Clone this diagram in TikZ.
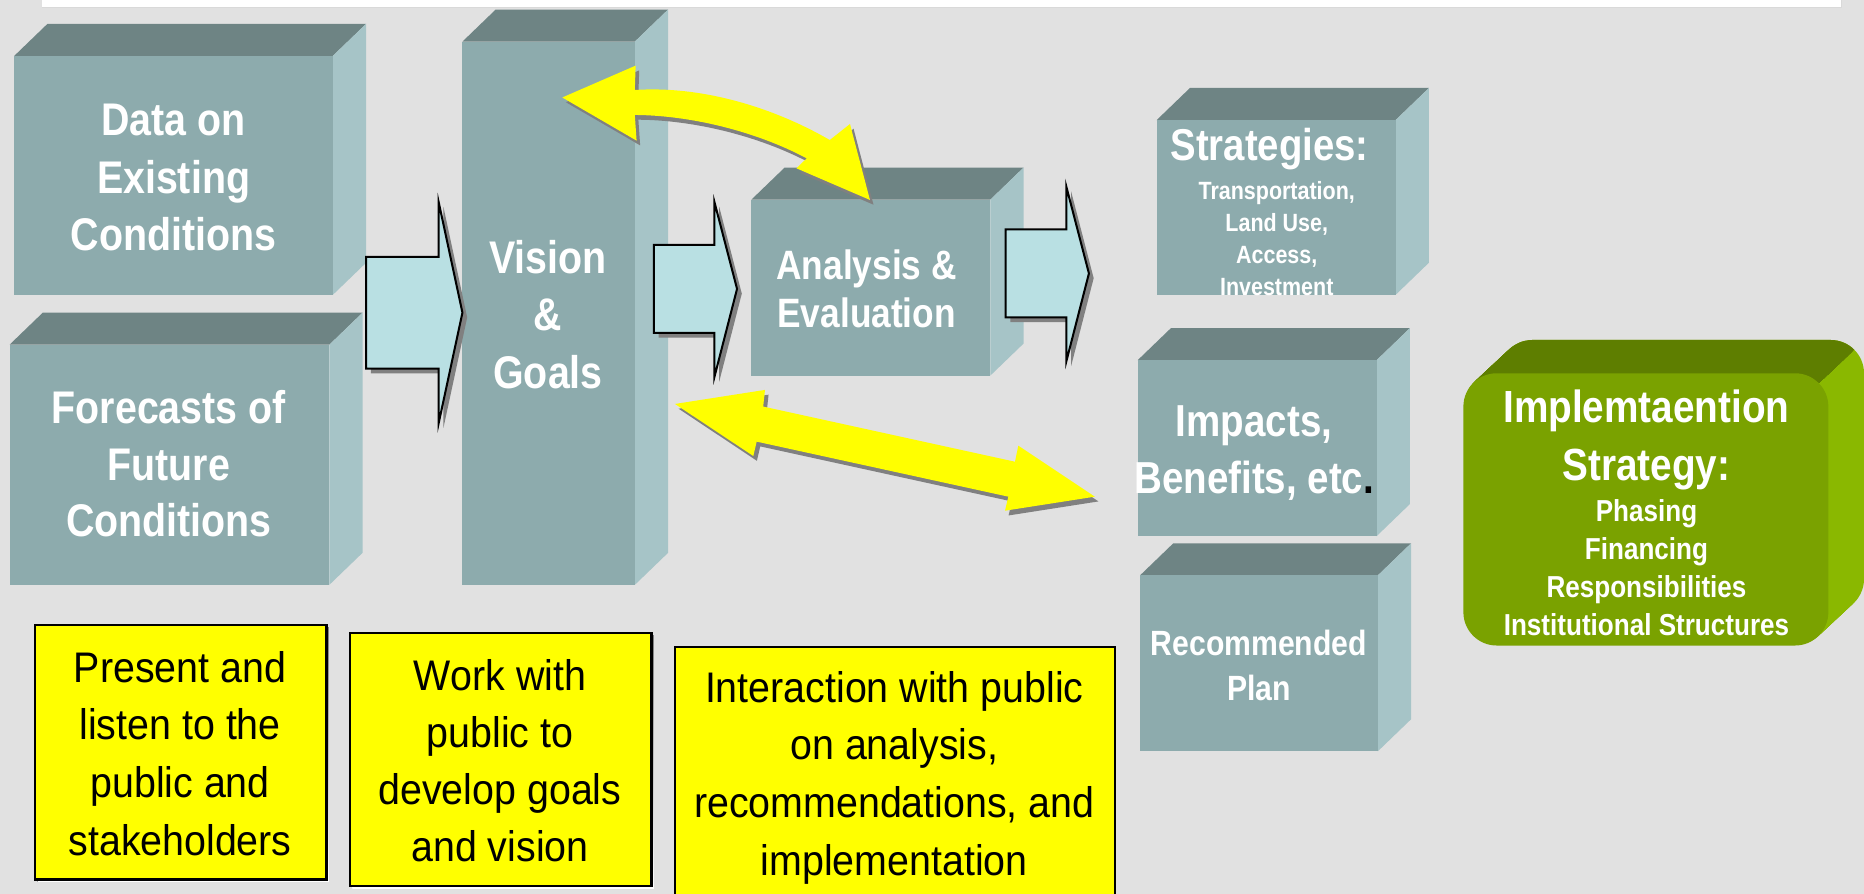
\documentclass[tikz,border=0pt]{standalone}
\usepackage{fontspec}
\setmainfont{Liberation Sans}[FakeStretch=0.86]
\newfontfamily\yfont{Liberation Sans}[FakeStretch=0.92]
\definecolor{bg}{HTML}{E1E1E1}
\definecolor{tfront}{HTML}{8DABAD}
\definecolor{ttop}{HTML}{6E8484}
\definecolor{tside}{HTML}{A6C4C7}
\definecolor{acyan}{HTML}{B9E0E3}
\definecolor{shade}{HTML}{808080}
\definecolor{gfront}{HTML}{7AA200}
\definecolor{gtop}{HTML}{5E7E00}
\definecolor{gside}{HTML}{8AB800}
\definecolor{ylw}{HTML}{FFFF00}
\tikzset{
  blockarrow/.style={fill=acyan, draw=black, line width=1.7pt, line join=miter},
  arrowshadow/.style={fill=shade},
  yarrow/.style={fill=ylw},
  ybox/.style={fill=ylw, draw=black, line width=2pt},
  boxtext/.style={text=white, align=center, inner sep=0pt, anchor=north},
  ytext/.style={text=black, align=center, inner sep=0pt, anchor=north,
    font=\yfont\fontsize{36}{48.5}\selectfont},
}
\newcommand\tdbox[4]{%
  \fill[ttop] (#1,#2) -- (#1+28,#2-27) -- (#3+28,#2-27) -- (#3,#2) -- cycle;
  \fill[tside] (#3,#2) -- (#3+28,#2-27) -- (#3+28,#4-27) -- (#3,#4) -- cycle;
  \fill[tfront] (#1,#2) rectangle (#3,#4);
}
\newcommand\pathAone{(308,216) -- (369,216) -- (369,170) -- (389,263) -- (369,356) -- (369,310) -- (308,310) -- cycle}
\newcommand\pathAtwo{(550,206) -- (601,206) -- (601,170) -- (620,243) -- (601,317) -- (601,280) -- (550,280) -- cycle}
\newcommand\pathAthree{(846,193) -- (897,193) -- (897,157) -- (916,230) -- (897,304) -- (897,267) -- (846,267) -- cycle}
\newcommand\pathYtop{(473,82) -- (534.7,55.2) -- (534,75.7) .. controls (590,72) and (650,90) .. (698,117.8) -- (715,104.3) -- (731.8,168.2) -- (670,141.6) -- (678.6,133.2) .. controls (635,110) and (580,97) .. (534,96.7) -- (535.5,118.3) -- cycle}
\newcommand\pathYbot{(567.8,339.8) -- (643.5,328) -- (642,342) -- (853.8,388.4) -- (856.6,374.9) -- (921,417.8) -- (845.4,429.6) -- (848.2,417.8) -- (636.5,371.5) -- (633.7,383.6) -- cycle}
\begin{document}
\begin{tikzpicture}[x=1pt,y=-1pt]
\useasboundingbox (0,0) rectangle (1568,752);
\fill[bg] (0,0) rectangle (1568,752);
\fill[white] (35,0) rectangle (1549,6.2);
\draw[black!15, line width=0.6pt] (35,6.2) -- (1549,6.2) -- (1549,0);

% 3D boxes
\tdbox{12}{47}{280}{248}
\tdbox{8}{290}{277}{492}
\tdbox{389}{35}{534}{492}
\tdbox{632}{168}{833}{316}
\tdbox{973}{101}{1174}{248}
\tdbox{957}{303}{1158}{451}
\tdbox{959}{484}{1159}{632}

% green box
\foreach \k in {30,29,...,1}
  \fill[gside, rounded corners=28pt] ({1231+\k},{314-\k*28/30}) rectangle ({1538+\k},{543-\k*28/30});
\begin{scope}
  \clip (1829.8,42.2) -- (1229.8,602.2) -- (949.8,302.2) -- (1549.8,-257.8) -- cycle;
  \foreach \k in {30,29,...,1}
    \fill[gtop, rounded corners=28pt] ({1231+\k},{314-\k*28/30}) rectangle ({1538+\k},{543-\k*28/30});
\end{scope}
\fill[gfront, rounded corners=28pt] (1231,314) rectangle (1538,543);

% block arrows
\fill[arrowshadow, xshift=4pt, yshift=-4pt] \pathAone;
\draw[blockarrow] \pathAone;
\fill[arrowshadow, xshift=4pt, yshift=-4pt] \pathAtwo;
\draw[blockarrow] \pathAtwo;
\fill[arrowshadow, xshift=4pt, yshift=-4pt] \pathAthree;
\draw[blockarrow] \pathAthree;

% yellow double arrows
\fill[arrowshadow, xshift=3pt, yshift=-4pt] \pathYtop;
\fill[yarrow] \pathYtop;
\fill[arrowshadow, xshift=3pt, yshift=-4pt] \pathYbot;
\fill[yarrow] \pathYbot;

% box texts
\node[boxtext, font=\bfseries\fontsize{38.5}{48.5}\selectfont] (tdata) at (146,87.3) {Data on\\Existing\\Conditions};
\node[boxtext, font=\bfseries\fontsize{38.5}{47.5}\selectfont] (tfore) at (142,328.3) {Forecasts of\\Future\\Conditions};
\node[boxtext, font=\bfseries\fontsize{38.5}{48}\selectfont] (tvision) at (461,202.3) {Vision\\\&\\Goals};
\node[boxtext, font=\bfseries\fontsize{34.5}{41}\selectfont] (tanal) at (729,209.7) {Analysis \&\\Evaluation};
\node[boxtext, font=\bfseries\fontsize{37.5}{45}\selectfont] (tstrat) at (1068,107.6) {Strategies:};
\node[boxtext, font=\bfseries\fontsize{21}{26.8}\selectfont] (tstratsub) at (1074,152.6) {Transportation,\\Land Use,\\Access,\\Investment};
\node[boxtext, font=\bfseries\fontsize{37.7}{48.5}\selectfont] (timp) at (1055,340.9) {Impacts,\\Benefits, etc\textcolor{black}{.}};
\node[boxtext, font=\bfseries\fontsize{29.5}{37.8}\selectfont] (trec) at (1059,529.8) {Recommended\\Plan};
\node[boxtext, font=\bfseries\fontsize{37.9}{49}\selectfont] (timpl) at (1385,327.4) {Implemtaention\\Strategy:};
\node[boxtext, font=\bfseries\fontsize{25.5}{31.8}\selectfont] (timplsub) at (1385,420.4) {Phasing\\Financing\\Responsibilities\\Institutional Structures};

% yellow boxes
\fill[shade] (31.5,527.7) rectangle (276.6,741.7);
\draw[ybox] (29.6,525.7) rectangle (274.6,739.7);
\fill[shade] (296.4,534.7) rectangle (550,747.3);
\draw[ybox] (294.4,532.7) rectangle (548,745.3);
\draw[ybox] (567.8,544) rectangle (938,760);
\node[ytext] (ty1) at (151.5,547.5) {Present and\\listen to the\\public and\\stakeholders};
\node[ytext, font=\yfont\fontsize{36}{48.1}\selectfont] (ty2) at (420.6,554.5) {Work with\\public to\\develop goals\\and vision};
\node[ytext] (ty3) at (752.3,564.3) {Interaction with public\\on analysis,\\recommendations, and\\implementation};
\end{tikzpicture}
\end{document}
